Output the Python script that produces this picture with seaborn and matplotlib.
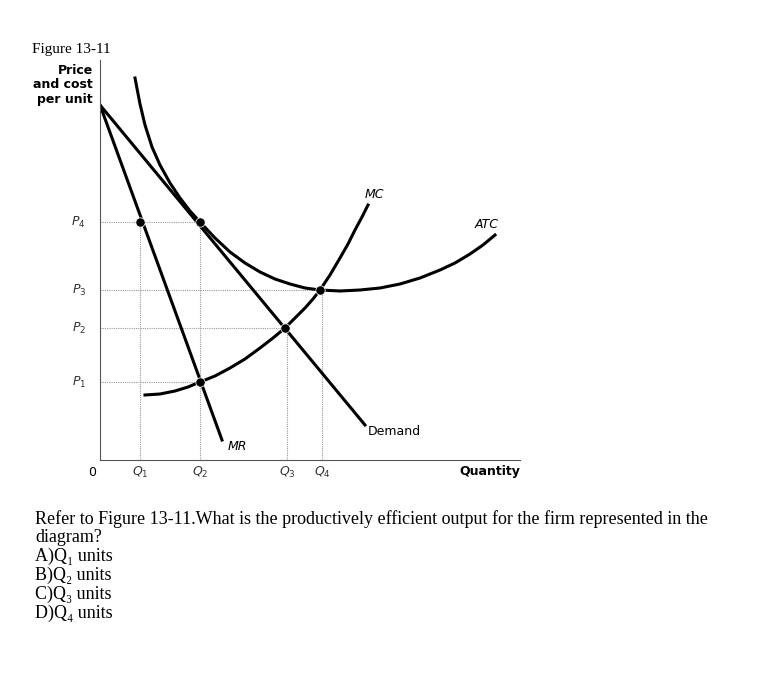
import matplotlib
matplotlib.use("Agg")
import matplotlib.pyplot as plt
import seaborn as sns
import pandas as pd

# data (diagram units: x = quantity, y = price)
demand_x = [0, 265]
demand_y = [355, 35]
mr_x = [0, 122]
mr_y = [355, 20]
mc_x = [45, 60, 75, 88, 100, 115, 130, 145, 160, 173, 185, 196, 205, 213, 220, 230, 240, 248, 255, 262, 268]
mc_y = [65, 66, 69, 73, 78, 84, 92, 101, 112, 122, 132, 143, 152, 161, 170, 185, 202, 216, 230, 243, 255]
atc_x = [35, 40, 45, 52, 60, 70, 80, 90, 100, 115, 130, 145, 160, 175, 190, 205, 220, 240, 260, 280, 300,
         320, 340, 355, 370, 383, 395]
atc_y = [382, 356, 335, 313, 295, 277, 262, 249, 238, 222, 208, 197, 188, 181, 176, 172, 170, 169, 170, 172, 176,
         182, 190, 197, 206, 215, 225]
pt_x = [40, 100, 100, 185, 220]
pt_y = [238, 238, 78, 132, 170]
p_labels = ["$P_4$", "$P_3$", "$P_2$", "$P_1$"]
p_vals = [238, 170, 132, 78]
p_reach = [100, 222, 187, 100]
q_labels = ["$Q_1$", "$Q_2$", "$Q_3$", "$Q_4$"]
q_vals = [40, 100, 187, 222]
q_reach = [238, 238, 132, 170]

fig = plt.figure(figsize=(7.65, 6.74), dpi=100)
ax = fig.add_axes([100 / 765, 1 - 460 / 674, 420 / 765, 400 / 674])
ax.set_xlim(0, 420)
ax.set_ylim(0, 400)

for y, xr in zip(p_vals, p_reach):
    ax.plot([0, xr], [y, y], color="#999999", lw=0.8, ls=(0, (1, 1)))
for x, yr in zip(q_vals, q_reach):
    ax.plot([x, x], [0, yr], color="#999999", lw=0.8, ls=(0, (1, 1)))

lw = 2.2
sns.lineplot(x=demand_x, y=demand_y, ax=ax, color="black", lw=lw, sort=False)
sns.lineplot(x=mr_x, y=mr_y, ax=ax, color="black", lw=lw, sort=False)
sns.lineplot(data=pd.DataFrame({"x": mc_x, "y": mc_y}), x="x", y="y", ax=ax, color="black", lw=lw, sort=False)
sns.lineplot(data=pd.DataFrame({"x": atc_x, "y": atc_y}), x="x", y="y", ax=ax, color="black", lw=lw, sort=False)
sns.scatterplot(x=pt_x, y=pt_y, ax=ax, color="black", s=45, zorder=5)

for s in ["top", "right"]:
    ax.spines[s].set_visible(False)
ax.spines["left"].set_color("#555555")
ax.spines["bottom"].set_color("#555555")
ax.set_xticks([])
ax.set_yticks([])
ax.set_xlabel("")
ax.set_ylabel("")

for lab, y in zip(p_labels, p_vals):
    ax.text(-14, y, lab, ha="right", va="center", fontsize=9, color="#333333")
for lab, x in zip(q_labels, q_vals):
    ax.text(x, -12, lab, ha="center", va="center", fontsize=9, color="#333333")
ax.text(-8, -12, "0", ha="center", va="center", fontsize=9)
ax.text(390, -12, "Quantity", ha="center", va="center", fontsize=9, fontweight="bold")
ax.text(265, 262, "MC", fontsize=9, style="italic")
ax.text(375, 232, "ATC", fontsize=9, style="italic")
ax.text(268, 25, "Demand", fontsize=9)
ax.text(128, 10, "MR", fontsize=9, style="italic")

fig.text(32 / 765, 1 - 50 / 674, "Figure 13-11", fontsize=11, family="Liberation Serif", va="center")
fig.text(93 / 765, 1 - 85 / 674, "Price\nand cost\nper unit", fontsize=9, fontweight="bold",
         ha="right", va="center", linespacing=1.2)
fig.text(35 / 765, 1 - 510 / 674,
         "Refer to Figure 13-11.What is the productively efficient output for the firm represented in the\n"
         "diagram?\nA)Q\u2081 units\nB)Q\u2082 units\nC)Q\u2083 units\nD)Q\u2084 units",
         fontsize=13, family="Liberation Serif", va="top", linespacing=1.12)

fig.savefig("out.png", dpi=100)
